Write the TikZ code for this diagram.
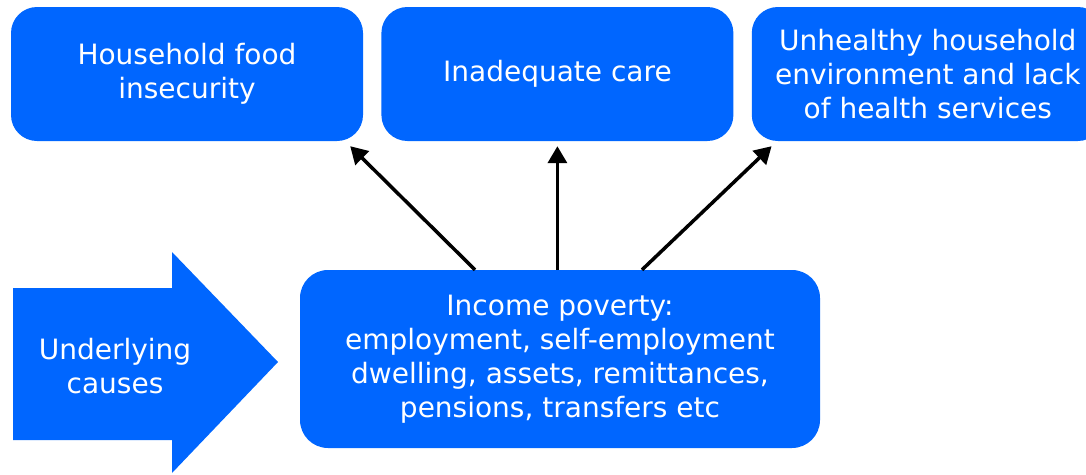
\documentclass[tikz,border=0pt]{standalone}
\usepackage{fontspec}
\setmainfont{DejaVu Sans}
\usetikzlibrary{arrows.meta, positioning}
\definecolor{boxblue}{HTML}{0066FF}

\begin{document}
\begin{tikzpicture}[x=1pt, y=-1pt, font=\fontsize{28}{34}\selectfont, >={Triangle[length=17pt,width=19pt]}, node distance=18pt,
    box/.style={fill=boxblue, text=white, rounded corners=26pt, align=center, inner sep=0pt}]
    \useasboundingbox (0,0) rectangle (1086,474);
    \node[box, minimum width=352pt, minimum height=134pt] (food) at (187,74) {Household food\\insecurity};
    \node[box, minimum width=352pt, minimum height=134pt, right=of food] (care) {Inadequate care};
    \node[box, minimum width=352pt, minimum height=134pt, right=of care] (env) {Unhealthy household\\environment and lack\\of health services};
    \node[box, minimum width=520pt, minimum height=178pt, rounded corners=28pt] (inc) at (560,359) {Income poverty:\\employment, self-employment\\dwelling, assets, remittances,\\pensions, transfers etc};
    % big arrow on the left
    \fill[boxblue] (13,288) -- (172,288) -- (172,252) -- (278,362) -- (172,473) -- (172,440) -- (13,440) -- cycle;
    \node[text=white, align=center] (causes) at (115,366) {Underlying\\causes};
    \draw[->, line width=3.5pt] ([xshift=-85pt]inc.north) -- ([shift={(-13,5)}]food.south east);
    \draw[->, line width=3.5pt] (care.south |- inc.north) -- ([yshift=-5pt]care.south);
    \draw[->, line width=3.5pt] ([xshift=82pt]inc.north) -- ([shift={(20,5)}]env.south west);
\end{tikzpicture}
\end{document}
